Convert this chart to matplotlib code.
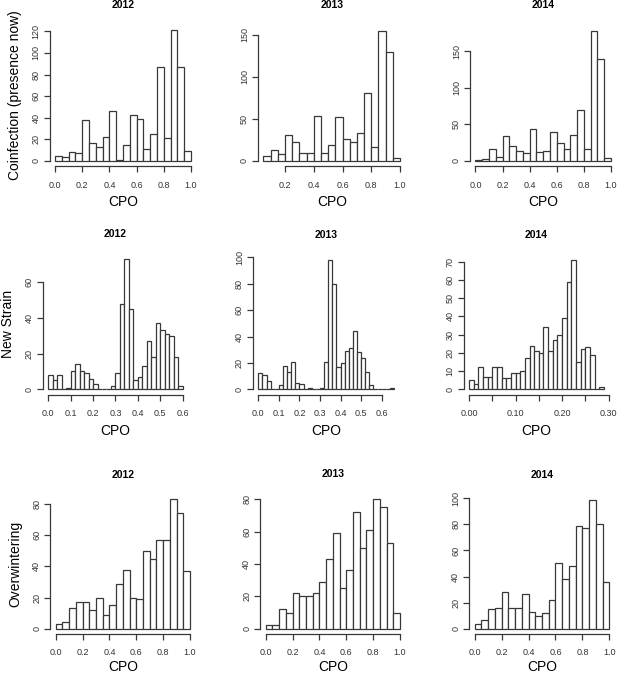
import numpy as np
import matplotlib
matplotlib.use("Agg")
import matplotlib.pyplot as plt

plt.rcParams["font.family"] = ["Liberation Sans", "DejaVu Sans"]

# histogram counts, one list per panel
years = ["2012", "2013", "2014"]
row_labels = ["Coinfection (presence now)", "New Strain", "Overwintering"]

coinf_2012 = [5, 4, 8, 7, 38, 17, 13, 22, 46, 1, 15, 43, 39, 11, 25, 87, 21, 121, 87, 9]
coinf_2013 = [6, 13, 8, 31, 23, 10, 9, 54, 9, 19, 52, 26, 23, 33, 81, 17, 155, 130, 4]
coinf_2014 = [1, 3, 16, 6, 34, 20, 13, 11, 43, 12, 13, 39, 24, 17, 35, 69, 16, 178, 139, 4]

strain_2012 = [8, 5, 8, 0, 1, 10, 14, 10, 9, 6, 3, 0, 0, 0, 2, 9, 48, 73, 45, 5,
               7, 13, 27, 18, 37, 33, 31, 30, 18, 2]
strain_2013 = [12, 11, 6, 0, 0, 3, 18, 13, 21, 5, 4, 0, 1, 0, 0, 1, 21, 98, 80, 17,
               20, 29, 31, 44, 28, 24, 13, 3, 0, 0, 0, 0, 1]
strain_2014 = [5, 3, 12, 7, 7, 12, 12, 6, 6, 9, 9, 10, 17, 24, 21, 20, 34, 21, 27, 30,
               39, 59, 71, 15, 22, 23, 19, 0, 1]

winter_2012 = [3, 4, 13, 17, 17, 12, 20, 9, 15, 29, 38, 20, 19, 50, 45, 57, 57, 83, 74, 37]
winter_2013 = [2, 2, 12, 10, 22, 20, 20, 22, 29, 43, 59, 25, 36, 72, 50, 61, 80, 75, 53, 10]
winter_2014 = [4, 7, 15, 16, 28, 16, 16, 27, 13, 10, 12, 22, 50, 38, 48, 79, 77, 99, 80, 36]

# first break and bin width of each panel
bin_start = [[0.0, 0.05, 0.0], [0.0, 0.0, 0.0], [0.0, 0.0, 0.0]]
bin_width = [[0.05, 0.05, 0.05], [0.02, 0.02, 0.01], [0.05, 0.05, 0.05]]

counts = [[coinf_2012, coinf_2013, coinf_2014],
          [strain_2012, strain_2013, strain_2014],
          [winter_2012, winter_2013, winter_2014]]

x_ticks = [[np.arange(0, 1.01, 0.2), np.arange(0.2, 1.01, 0.2), np.arange(0, 1.01, 0.2)],
           [np.arange(0, 0.61, 0.1), np.arange(0, 0.61, 0.1), np.arange(0, 0.301, 0.05)],
           [np.arange(0, 1.01, 0.2), np.arange(0, 1.01, 0.2), np.arange(0, 1.01, 0.2)]]
x_fmt = [["%.1f"] * 3, ["%.1f", "%.1f", "%.2f"], ["%.1f"] * 3]
y_ticks = [[np.arange(0, 121, 20), np.arange(0, 151, 50), np.arange(0, 151, 50)],
           [np.arange(0, 61, 20), np.arange(0, 101, 20), np.arange(0, 71, 10)],
           [np.arange(0, 81, 20), np.arange(0, 81, 20), np.arange(0, 101, 20)]]

# plot regions in pixels (left, right, top, bottom)
boxes = [[(49.6, 196.4, 25, 166.2), (258, 405.5, 25.3, 166.2), (470, 616.4, 25.3, 166.2)],
         [(42.9, 188, 254, 394.5), (252.9, 399.4, 254.8, 394.5), (463.6, 609.4, 254.7, 394.5)],
         [(50.3, 195.4, 494.2, 633.9), (260.3, 405.4, 494.1, 633.9), (469.3, 614.7, 494.4, 633.9)]]
title_pad = [12.5, 12.0, 12.0]
cpo_pad = [4, 4, 2]

W, H = 617, 674
fig = plt.figure(figsize=(W / 100, H / 100), dpi=100)
edge = "#383838"

for i in range(3):
    for j in range(3):
        l, r, t, b = boxes[i][j]
        ax = fig.add_axes([l / W, 1 - b / H, (r - l) / W, (b - t) / H])
        c = np.array(counts[i][j])
        edges = bin_start[i][j] + bin_width[i][j] * np.arange(len(c) + 1)
        ax.bar(edges[:-1], c, width=bin_width[i][j], align="edge",
               facecolor="white", edgecolor=edge, linewidth=0.9)
        # R-style 4% padding
        x0, x1 = edges[0], edges[-1]
        dx = 0.04 * (x1 - x0)
        ax.set_xlim(x0 - dx, x1 + dx)
        ymax = c.max()
        ax.set_ylim(-0.04 * ymax, 1.04 * ymax)

        xt = x_ticks[i][j]
        ax.set_xticks(xt)
        labs = [x_fmt[i][j] % v for v in xt]
        if i == 1 and j == 2:
            labs = [s if k % 2 == 0 else "" for k, s in enumerate(labs)]
        ax.set_xticklabels(labs)
        yt = y_ticks[i][j]
        ax.set_yticks(yt)
        ax.set_yticklabels([str(int(v)) for v in yt], rotation=90, va="center")

        for s in ["top", "right"]:
            ax.spines[s].set_visible(False)
        ax.spines["left"].set_bounds(yt[0], yt[-1])
        ax.spines["bottom"].set_bounds(xt[0], xt[-1])
        for s in ["left", "bottom"]:
            ax.spines[s].set_color(edge)
            ax.spines[s].set_linewidth(0.9)
        ax.tick_params(length=4, width=0.9, color=edge, labelsize=6.5,
                       labelcolor="#333333")
        ax.tick_params(axis="x", pad=6.5)
        ax.tick_params(axis="y", pad=2.5)

        ax.set_title(years[j], fontsize=7.5, fontweight="bold", pad=title_pad[i])
        ax.set_xlabel("CPO", fontsize=10, labelpad=cpo_pad[i])
        if j == 0:
            ax.set_ylabel(row_labels[i], fontsize=10, labelpad=7)

fig.savefig("out.png", dpi=100)
